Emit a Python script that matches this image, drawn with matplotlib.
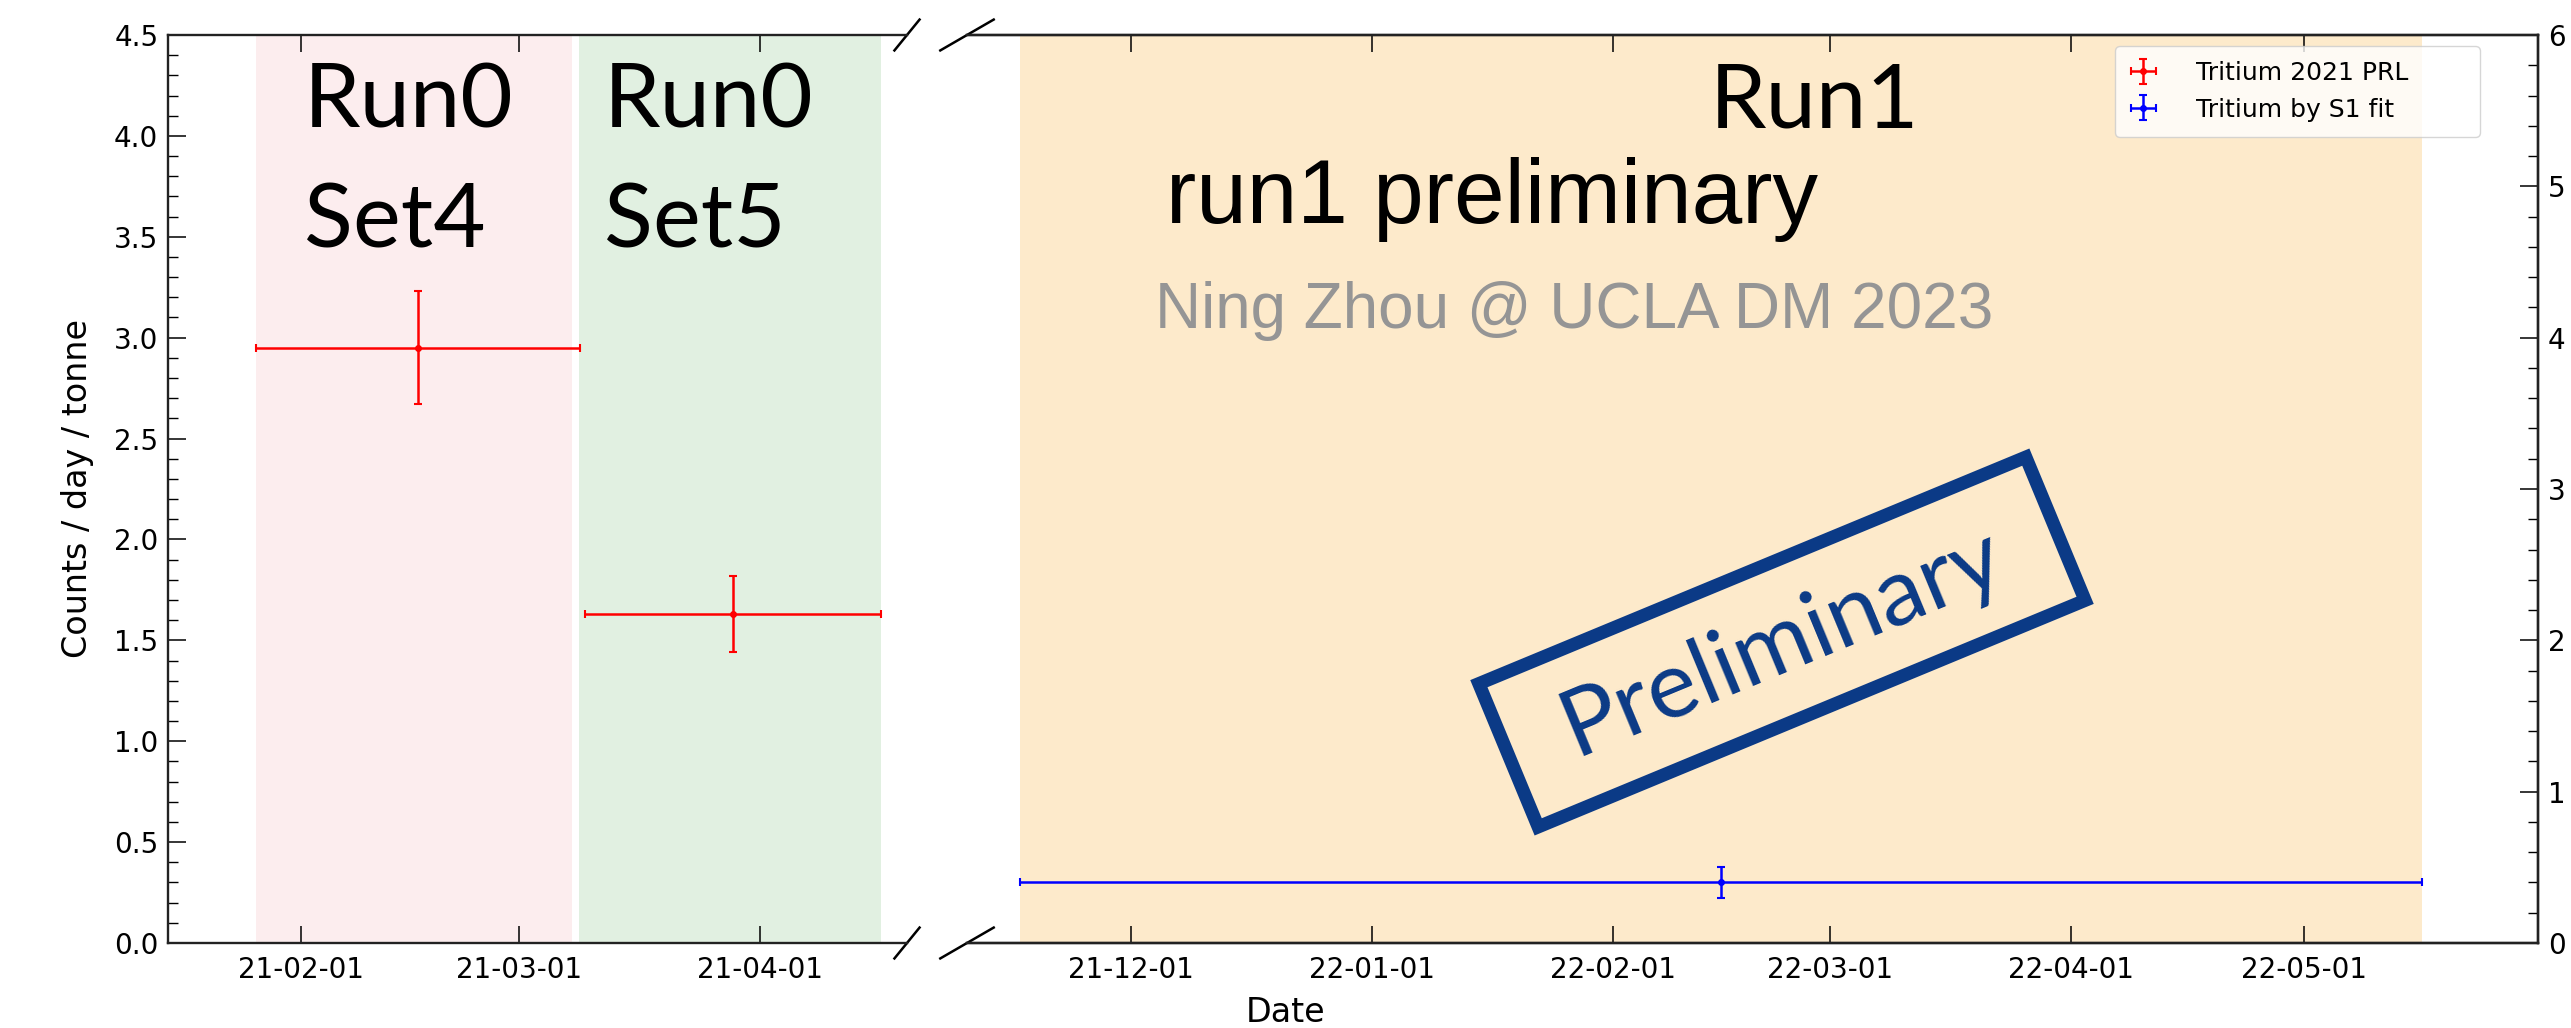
import matplotlib
matplotlib.use('Agg')
import matplotlib.pyplot as plt
import matplotlib.dates as mdates
from matplotlib.patches import Rectangle
from matplotlib.ticker import MultipleLocator
import pandas as pd

# ---- data ----
run0_labels = ['Run0\nSet4', 'Run0\nSet5']
run0_band_start = ['2021-01-26 07:00', '2021-03-08 17:00']
run0_band_end = ['2021-03-07 19:00', '2021-04-16 14:00']
run0_band_colors = ['#fcedee', '#e1f0e1']

prl_dates = ['2021-02-16 02:00', '2021-03-28 14:00']
prl_halfwidth_days = [20.8, 19.0]
prl_values = [2.95, 1.63]
prl_errors = [0.28, 0.19]

run1_band_start = '2021-11-16 17:00'
run1_band_end = '2022-05-16 05:00'
s1_dates = ['2022-02-14 23:00']
s1_halfwidth_days = [90.25]
s1_values = [0.30]
s1_errors = [0.075]

left_xlim = ['2021-01-14 22:00', '2021-04-19 22:00']
right_xlim = ['2021-11-09 21:00', '2022-05-31 03:00']

W, H = 2571, 1028
plt.rcParams['font.family'] = ['DejaVu Sans']
plt.rcParams['font.size'] = 20

fig = plt.figure(figsize=(W / 100, H / 100), dpi=100)


def fx(px):
    return px / W


def fy(py):
    return 1 - py / H


ax1 = fig.add_axes([fx(168), fy(943), fx(907) - fx(168), fy(35) - fy(943)])
ax2 = fig.add_axes([fx(967), fy(943), fx(2538) - fx(967), fy(35) - fy(943)])

ts = pd.to_datetime

# bands
for s, e, c in zip(run0_band_start, run0_band_end, run0_band_colors):
    ax1.axvspan(ts(s), ts(e), color=c, lw=0, zorder=0)
ax2.axvspan(ts(run1_band_start), ts(run1_band_end), color='#fdeacb', lw=0, zorder=0)

# error bars
eb_kw = dict(fmt='o', ms=4, elinewidth=1.8, capsize=3, capthick=1.5)
h_prl = ax1.errorbar(ts(prl_dates), prl_values, yerr=prl_errors,
                     xerr=pd.to_timedelta(prl_halfwidth_days, unit='D'),
                     color='red', label='Tritium 2021 PRL', **eb_kw)
h_s1 = ax2.errorbar(ts(s1_dates), s1_values, yerr=s1_errors,
                    xerr=pd.to_timedelta(s1_halfwidth_days, unit='D'),
                    color='blue', label='Tritium by S1 fit', **eb_kw)

ax1.set_xlim(ts(left_xlim[0]), ts(left_xlim[1]))
ax2.set_xlim(ts(right_xlim[0]), ts(right_xlim[1]))
for ax in (ax1, ax2):
    ax.set_ylim(0, 4.5)
    ax.xaxis.set_major_locator(mdates.MonthLocator(bymonthday=1))
    ax.xaxis.set_major_formatter(mdates.DateFormatter('%y-%m-%d'))
    ax.tick_params(axis='x', direction='in', top=True, bottom=True,
                   length=12.5, width=1.1, pad=9, labelsize=20)
    for sp in ax.spines.values():
        sp.set_linewidth(1.7)
        sp.set_color('#222222')

ax1.yaxis.set_major_locator(MultipleLocator(0.5))
ax1.yaxis.set_minor_locator(MultipleLocator(0.1))
ax1.tick_params(axis='y', which='major', direction='in', length=13, width=1.1,
                pad=7, right=False, labelsize=20)
ax1.tick_params(axis='y', which='minor', direction='in', length=7.5, width=1.0,
                right=False)
ax1.set_ylabel('Counts / day / tonne', fontsize=24, labelpad=14)
ax1.spines['right'].set_visible(False)

ax3 = ax2.twinx()
ax3.set_ylim(0, 6)
ax3.yaxis.set_major_locator(MultipleLocator(1))
ax3.yaxis.set_minor_locator(MultipleLocator(0.2))
ax3.tick_params(axis='y', which='major', direction='in', length=13, width=1.1,
                pad=7, labelsize=20)
ax3.tick_params(axis='y', which='minor', direction='in', length=7.5, width=1.0)
ax2.tick_params(axis='y', which='both', left=False, right=False,
                labelleft=False, labelright=False)
ax2.spines['left'].set_visible(False)
ax3.spines['left'].set_visible(False)
for sp in ax3.spines.values():
    sp.set_linewidth(1.7)
    sp.set_color('#222222')

# axis break marks
d = 0.017
bk = dict(color='k', clip_on=False, lw=1.8)
ax1.plot((1 - d, 1 + d), (-d, d), transform=ax1.transAxes, **bk)
ax1.plot((1 - d, 1 + d), (1 - d, 1 + d), transform=ax1.transAxes, **bk)
ax2.plot((-d, d), (-d, d), transform=ax2.transAxes, **bk)
ax2.plot((-d, d), (1 - d, 1 + d), transform=ax2.transAxes, **bk)

fig.text(0.5, fy(1022), 'Date', ha='center', va='baseline', fontsize=24)

ax3.legend([h_prl, h_s1], ['Tritium 2021 PRL', 'Tritium by S1 fit'],
           loc='upper left', mode='expand',
           bbox_to_anchor=(fx(2115), fy(160), fx(2480) - fx(2115), fy(46) - fy(160)),
           bbox_transform=fig.transFigure, borderaxespad=0, fontsize=18,
           borderpad=0.6, handlelength=1.05, handletextpad=1.6, labelspacing=0.5)

# slide overlays
ov = ['Lato', 'DejaVu Sans']
for (x, lab) in zip([304, 604], run0_labels):
    l1, l2 = lab.split('\n')
    fig.text(fx(x), fy(128), l1, family=ov, fontsize=65, va='baseline')
    fig.text(fx(x), fy(247), l2, family=ov, fontsize=65, va='baseline')
fig.text(fx(1710), fy(128), 'Run1', family=ov, fontsize=65, va='baseline')
fig.text(fx(1166), fy(223), 'run1 preliminary', family=['Liberation Sans'],
         fontsize=65.5, va='baseline')
fig.text(fx(1155), fy(328), 'Ning Zhou @ UCLA DM 2023',
         family=['Liberation Sans'], fontsize=46, va='baseline', color='#959595')

# "Preliminary" stamp
cx, cy = 1782 / 100, (H - 642) / 100
bw, bh = 5.92, 1.55
fig.add_artist(Rectangle((cx - bw / 2, cy - bh / 2), bw, bh, angle=22.5,
                         rotation_point='center', fill=False, ec='#0b3a86',
                         lw=9.5, transform=fig.dpi_scale_trans))
fig.text(cx / (W / 100), cy / (H / 100), 'Preliminary', family=ov, fontsize=68,
         color='#0b3a86', rotation=22.5, rotation_mode='anchor',
         ha='center', va='center')

fig.savefig('out.png', dpi=100)
